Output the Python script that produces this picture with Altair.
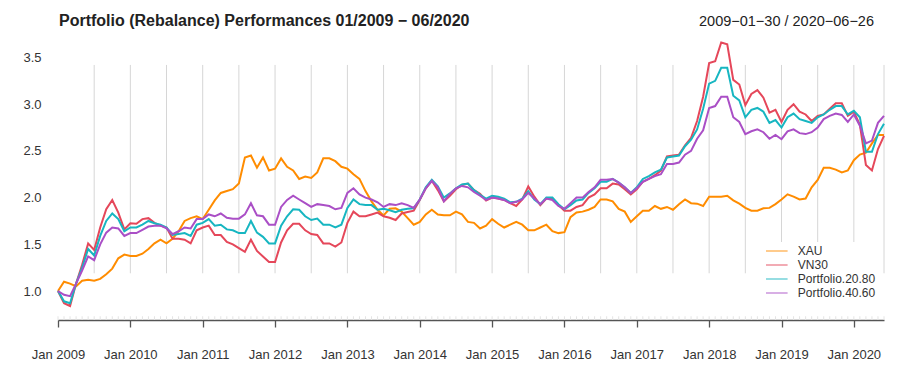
import altair as alt
import pandas as pd

title_text = "Portfolio (Rebalance) Performances 01/2009 \u2212 06/2020"
range_text = "2009\u221201\u221230 / 2020\u221206\u221226"
series_names = ["XAU", "VN30", "Portfolio.20.80", "Portfolio.40.60"]
colors = ["#FF8C00", "#E5475A", "#17B6C1", "#AA4FC6"]
start_year = 2009
y_ticks = [1.0, 1.5, 2.0, 2.5, 3.0, 3.5]

xau = [1.00, 1.10, 1.08, 1.05, 1.11, 1.12, 1.11, 1.13, 1.18, 1.24,
       1.35, 1.39, 1.375, 1.375, 1.40, 1.45, 1.51, 1.55, 1.51, 1.56,
       1.64, 1.75, 1.78, 1.80, 1.77, 1.87, 1.97, 2.05, 2.07, 2.09,
       2.15, 2.43, 2.45, 2.32, 2.43, 2.29, 2.31, 2.42, 2.33, 2.29,
       2.20, 2.225, 2.21, 2.27, 2.42, 2.42, 2.39, 2.33, 2.31, 2.25,
       2.20, 2.07, 1.96, 1.87, 1.81, 1.88, 1.885, 1.85, 1.78, 1.71,
       1.74, 1.82, 1.87, 1.82, 1.81, 1.81, 1.85, 1.82, 1.74, 1.73,
       1.67, 1.70, 1.77, 1.72, 1.68, 1.71, 1.74, 1.71, 1.65, 1.65,
       1.68, 1.71, 1.64, 1.62, 1.63, 1.79, 1.84, 1.85, 1.87, 1.90,
       1.98, 1.98, 1.96, 1.88, 1.85, 1.74, 1.80, 1.86, 1.86, 1.91,
       1.88, 1.90, 1.87, 1.93, 1.98, 1.94, 1.935, 1.91, 2.01, 2.01,
       2.01, 2.02, 1.97, 1.935, 1.89, 1.86, 1.86, 1.885, 1.89, 1.93,
       1.98, 2.035, 2.01, 1.98, 1.99, 2.11, 2.19, 2.32, 2.32, 2.30,
       2.27, 2.29, 2.40, 2.46, 2.48, 2.58, 2.67, 2.67]

vn30 = [1.00, 0.87, 0.84, 1.08, 1.28, 1.51, 1.44, 1.68, 1.875, 1.975,
        1.84, 1.66, 1.725, 1.72, 1.77, 1.78, 1.73, 1.70, 1.68, 1.56,
        1.56, 1.55, 1.51, 1.65, 1.68, 1.70, 1.60, 1.60, 1.525, 1.50,
        1.46, 1.42, 1.55, 1.43, 1.37, 1.31, 1.31, 1.52, 1.65, 1.72,
        1.72, 1.65, 1.61, 1.60, 1.51, 1.51, 1.475, 1.52, 1.73, 1.85,
        1.80, 1.80, 1.82, 1.84, 1.80, 1.785, 1.76, 1.83, 1.845, 1.86,
        1.975, 2.10, 2.18, 2.08, 1.96, 2.02, 2.09, 2.135, 2.15, 2.08,
        2.04, 1.97, 2.00, 1.99, 1.975, 1.94, 1.91, 1.98, 2.12, 2.01,
        1.92, 1.99, 1.99, 1.92, 1.86, 1.86, 1.90, 1.92, 2.00, 2.035,
        2.10, 2.10, 2.15, 2.14, 2.09, 2.035, 2.09, 2.17, 2.20, 2.24,
        2.29, 2.44, 2.45, 2.46, 2.56, 2.64, 2.82, 3.08, 3.44, 3.46,
        3.66, 3.64, 3.26, 3.21, 2.99, 3.11, 3.15, 3.07, 2.91, 2.94,
        2.81, 2.94, 3.00, 2.92, 2.89, 2.82, 2.875, 2.89, 2.95, 3.01,
        3.01, 2.875, 2.92, 2.78, 2.35, 2.29, 2.52, 2.66]

p2080 = [1.00, 0.89, 0.87, 1.08, 1.25, 1.45, 1.38, 1.59, 1.75, 1.83,
         1.77, 1.64, 1.68, 1.68, 1.71, 1.75, 1.725, 1.71, 1.68, 1.60,
         1.61, 1.62, 1.59, 1.71, 1.73, 1.77, 1.70, 1.71, 1.66, 1.65,
         1.62, 1.62, 1.75, 1.625, 1.58, 1.51, 1.51, 1.70, 1.80, 1.875,
         1.87, 1.80, 1.76, 1.775, 1.71, 1.71, 1.68, 1.71, 1.89, 1.98,
         1.93, 1.92, 1.92, 1.87, 1.88, 1.865, 1.845, 1.87, 1.88, 1.885,
         1.98, 2.11, 2.19, 2.12, 2.00, 2.045, 2.10, 2.14, 2.15, 2.08,
         2.03, 1.99, 2.02, 2.01, 1.99, 1.95, 1.955, 1.99, 2.07, 1.98,
         1.93, 2.00, 2.00, 1.93, 1.875, 1.92, 1.97, 1.98, 2.05, 2.10,
         2.17, 2.17, 2.20, 2.16, 2.11, 2.05, 2.11, 2.20, 2.23, 2.27,
         2.30, 2.43, 2.44, 2.45, 2.55, 2.62, 2.73, 2.95, 3.22, 3.25,
         3.39, 3.39, 3.09, 3.04, 2.86, 2.94, 2.96, 2.92, 2.80, 2.83,
         2.75, 2.86, 2.90, 2.84, 2.82, 2.80, 2.86, 2.89, 2.94, 2.98,
         2.98, 2.89, 2.93, 2.86, 2.49, 2.49, 2.68, 2.79]

p4060 = [1.00, 0.96, 0.945, 1.08, 1.22, 1.37, 1.33, 1.50, 1.625, 1.68,
         1.67, 1.59, 1.62, 1.62, 1.655, 1.69, 1.70, 1.70, 1.67, 1.61,
         1.64, 1.68, 1.67, 1.77, 1.77, 1.82, 1.80, 1.83, 1.785, 1.775,
         1.775, 1.82, 1.94, 1.81, 1.80, 1.71, 1.71, 1.90, 1.975, 2.02,
         1.98, 1.94, 1.90, 1.93, 1.92, 1.91, 1.875, 1.89, 2.05, 2.10,
         2.035, 2.00, 1.98, 1.95, 1.90, 1.93, 1.92, 1.94, 1.92, 1.89,
         1.98, 2.10, 2.18, 2.11, 1.96, 2.04, 2.10, 2.125, 2.11, 2.06,
         2.02, 1.975, 2.00, 1.99, 1.975, 1.94, 1.955, 1.98, 2.05, 1.99,
         1.93, 1.99, 1.975, 1.91, 1.88, 1.94, 2.00, 2.00, 2.06, 2.11,
         2.19, 2.19, 2.20, 2.16, 2.11, 2.05, 2.10, 2.17, 2.20, 2.23,
         2.25, 2.36, 2.36, 2.375, 2.46, 2.50, 2.63, 2.72, 2.96, 2.98,
         3.08, 3.08, 2.86, 2.81, 2.68, 2.71, 2.73, 2.70, 2.63, 2.67,
         2.625, 2.71, 2.73, 2.69, 2.68, 2.70, 2.75, 2.84, 2.875, 2.90,
         2.885, 2.81, 2.89, 2.77, 2.58, 2.61, 2.80, 2.875]

rows = []
for k, (name, vals) in enumerate(zip(series_names, [xau, vn30, p2080, p4060])):
    for i, v in enumerate(vals):
        rows.append({"obs": i, "series": name, "value": v, "ord": k})
df = pd.DataFrame(rows)

n = len(xau)
major_ticks = list(range(0, n, 6)) + [n - 1]
vgrid_df = pd.DataFrame({"obs": list(range(6, n, 6)) + [n - 1]})
minor_df = pd.DataFrame({"obs": list(range(n))})

Y_MIN, Y_MAX = 0.69, 3.687
FONT = "Liberation Sans"

x_scale = alt.Scale(domain=[0, n - 1], nice=False, zero=False)
y_scale = alt.Scale(domain=[Y_MIN, Y_MAX], nice=False, zero=False)

label_expr = "datum.value % 12 == 0 ? 'Jan ' + (" + str(start_year) + " + datum.value / 12) : ''"

x_enc = alt.X("obs:Q", scale=x_scale,
              axis=alt.Axis(values=major_ticks, labelExpr=label_expr, grid=False,
                            domainColor="#555555", domainWidth=1.5,
                            tickColor="#555555", tickSize=7, tickWidth=1.3,
                            labelPadding=21, labelFontSize=13, labelColor="#333333",
                            labelFont=FONT, labelOverlap=False, labelFlush=False,
                            title=None))
y_enc = alt.Y("value:Q", scale=y_scale,
              axis=alt.Axis(values=y_ticks, format=".1f", domain=False, ticks=False,
                            labelPadding=17, labelFontSize=13, labelColor="#333333",
                            labelFont=FONT, gridColor="#dcdcdc", gridWidth=1.5,
                            title=None))

vgrid = alt.Chart(vgrid_df).mark_rule(color="#d6d6d6", strokeWidth=1).encode(
    x=alt.X("obs:Q", scale=x_scale),
    y=alt.datum(3.42), y2=alt.datum(1.19))

minor = alt.Chart(minor_df).mark_rule(color="#e4e4e4", strokeWidth=1).encode(
    x=alt.X("obs:Q", scale=x_scale),
    y=alt.datum(Y_MIN), y2=alt.datum(0.73))

lines = alt.Chart(df).mark_line(strokeWidth=2).encode(
    x=x_enc,
    y=y_enc,
    color=alt.Color("series:N",
                    scale=alt.Scale(domain=series_names, range=colors),
                    legend=alt.Legend(orient="none", legendX=709.8, legendY=202,
                                      title=None, symbolType="M-1.8,0H1.8",
                                      symbolSize=144, symbolStrokeWidth=1.5,
                                      symbolOpacity=0.6, labelFontSize=12,
                                      labelFont=FONT, labelColor="#333333",
                                      labelOffset=14, rowPadding=1,
                                      fillColor="white", padding=2)),
    order=alt.Order("ord:Q"),
)

title_mark = alt.Chart(pd.DataFrame({"t": [title_text]})).mark_text(
    align="left", baseline="alphabetic", fontSize=16, fontWeight="bold",
    font=FONT, color="#222222").encode(
    x=alt.value(1), y=alt.value(-14), text="t:N")

range_mark = alt.Chart(pd.DataFrame({"t": [range_text]})).mark_text(
    align="right", baseline="alphabetic", fontSize=14.5,
    font=FONT, color="#222222").encode(
    x=alt.value(816), y=alt.value(-14), text="t:N")

chart = alt.layer(vgrid, minor, lines, title_mark, range_mark).properties(
    width=826, height=280,
    background="white",
    autosize=alt.AutoSizeParams(type="none"),
    padding={"left": 50, "top": 32, "right": 10, "bottom": 45},
).configure_view(stroke=None)

chart.save("out.html", embed_options={"renderer": "svg", "actions": False})
